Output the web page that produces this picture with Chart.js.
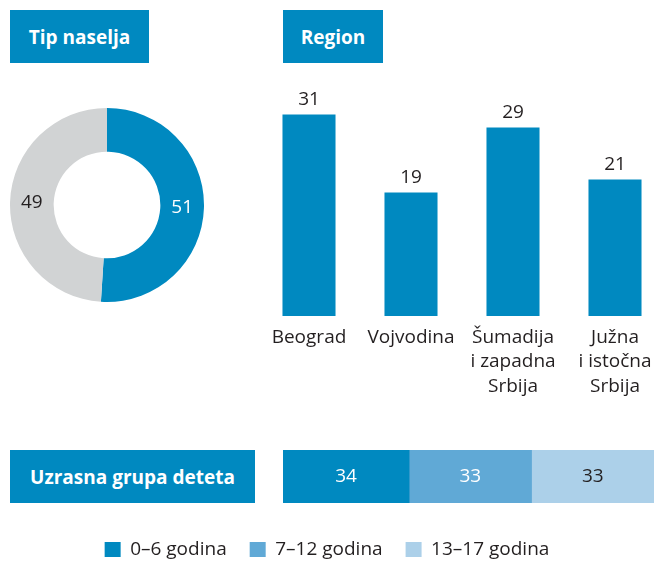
<!DOCTYPE html>
<html>
<head>
<meta charset="utf-8">
<script src="https://cdn.jsdelivr.net/npm/chart.js@4"></script>
<style>
    body { margin: 0; width: 654px; height: 562px; overflow: hidden; background: #fff; font-family: "Open Sans", sans-serif; }
    .box { position: absolute; background: #0089c0; color: #fff; font-weight: bold; font-size: 19px;
           display: flex; align-items: center; justify-content: center; z-index: 2; }
    canvas { position: absolute; }
</style>
</head>
<body>
<div class="box" style="left:10px; top:10px; width:139px; height:53px;">Tip naselja</div>
<div class="box" style="left:283px; top:10px; width:100px; height:53px;">Region</div>
<div class="box" style="left:10px; top:450px; width:245px; height:53px;">Uzrasna grupa deteta</div>

<canvas id="settlementChart" width="194" height="194" style="left:10px; top:108px;"></canvas>
<canvas id="regionChart" width="408" height="336" style="left:258px; top:70px;"></canvas>
<canvas id="ageChart" width="654" height="119" style="left:0px; top:450px;"></canvas>

<script>
const settlementLabels = ['Gradsko', 'Ostalo'];
const settlementValues = [51, 49];

const regionLabels = [['Beograd'], ['Vojvodina'], ['Šumadija', 'i zapadna', 'Srbija'], ['Južna', 'i istočna', 'Srbija']];
const regionValues = [31, 19, 29, 21];

const ageLabels = ['0–6 godina', '7–12 godina', '13–17 godina'];
const ageValues = [34, 33, 33];

const blue = '#0089c0';
const textDark = '#231f20';

// draws the numbers on/above each mark
const valueLabels = {
    id: 'valueLabels',
    afterDatasetsDraw(chart, args, opts) {
        const ctx = chart.ctx;
        ctx.save();
        ctx.font = '19px "Open Sans"';
        ctx.textAlign = 'center';
        ctx.textBaseline = 'middle';
        chart.data.datasets.forEach((ds, di) => {
            chart.getDatasetMeta(di).data.forEach((el, i) => {
                let p;
                if (opts.mode === 'above') p = { x: el.x, y: el.y - opts.offset };
                else p = el.getCenterPoint();
                ctx.fillStyle = opts.colors[opts.byDataset ? di : i];
                ctx.fillText(ds.data[i], p.x, p.y);
            });
        });
        ctx.restore();
    }
};

new Chart(document.getElementById('settlementChart'), {
    type: 'doughnut',
    data: {
        labels: settlementLabels,
        datasets: [{
            data: settlementValues,
            backgroundColor: [blue, '#d1d3d4'],
            borderWidth: 0
        }]
    },
    options: {
        responsive: false,
        animation: false,
        cutout: '55%',
        plugins: {
            legend: { display: false },
            tooltip: { enabled: false },
            valueLabels: { colors: ['#ffffff', textDark] }
        }
    },
    plugins: [valueLabels]
});

new Chart(document.getElementById('regionChart'), {
    type: 'bar',
    data: {
        labels: regionLabels,
        datasets: [{
            data: regionValues,
            backgroundColor: blue,
            borderWidth: 0,
            barPercentage: 0.52,
            categoryPercentage: 1
        }]
    },
    options: {
        responsive: false,
        animation: false,
        plugins: {
            legend: { display: false },
            tooltip: { enabled: false },
            valueLabels: { mode: 'above', offset: 15, colors: [textDark, textDark, textDark, textDark] }
        },
        scales: {
            y: { display: false, min: 0, max: 37.85 },
            x: {
                grid: { display: false, drawTicks: false },
                border: { display: false },
                ticks: {
                    color: textDark,
                    font: { family: 'Open Sans', size: 19, lineHeight: 1.3 },
                    padding: 9,
                    maxRotation: 0,
                    minRotation: 0,
                    autoSkip: false
                },
                afterFit: s => { s.height = 90; }
            }
        }
    },
    plugins: [valueLabels]
});

const ageColors = [blue, '#60a9d6', '#acd0e9'];

new Chart(document.getElementById('ageChart'), {
    type: 'bar',
    data: {
        labels: [''],
        datasets: ageLabels.map((label, i) => ({
            label: label,
            data: [ageValues[i]],
            backgroundColor: ageColors[i],
            borderWidth: 0,
            barPercentage: 1,
            categoryPercentage: 1
        }))
    },
    options: {
        responsive: false,
        animation: false,
        indexAxis: 'y',
        plugins: {
            legend: {
                position: 'bottom',
                labels: {
                    color: textDark,
                    font: { family: 'Open Sans', size: 19 },
                    boxWidth: 16,
                    boxHeight: 15,
                    padding: 23
                }
            },
            tooltip: { enabled: false },
            valueLabels: { byDataset: true, colors: ['#ffffff', '#ffffff', textDark] }
        },
        scales: {
            x: {
                stacked: true, min: 0, max: 100,
                grid: { display: false, drawTicks: false },
                border: { display: false },
                ticks: { display: false },
                afterFit: s => { s.height = 14; }
            },
            y: {
                stacked: true,
                grid: { display: false, drawTicks: false },
                border: { display: false },
                ticks: { display: false },
                afterFit: s => { s.width = 283; }
            }
        }
    },
    plugins: [valueLabels]
});
</script>
</body>
</html>
